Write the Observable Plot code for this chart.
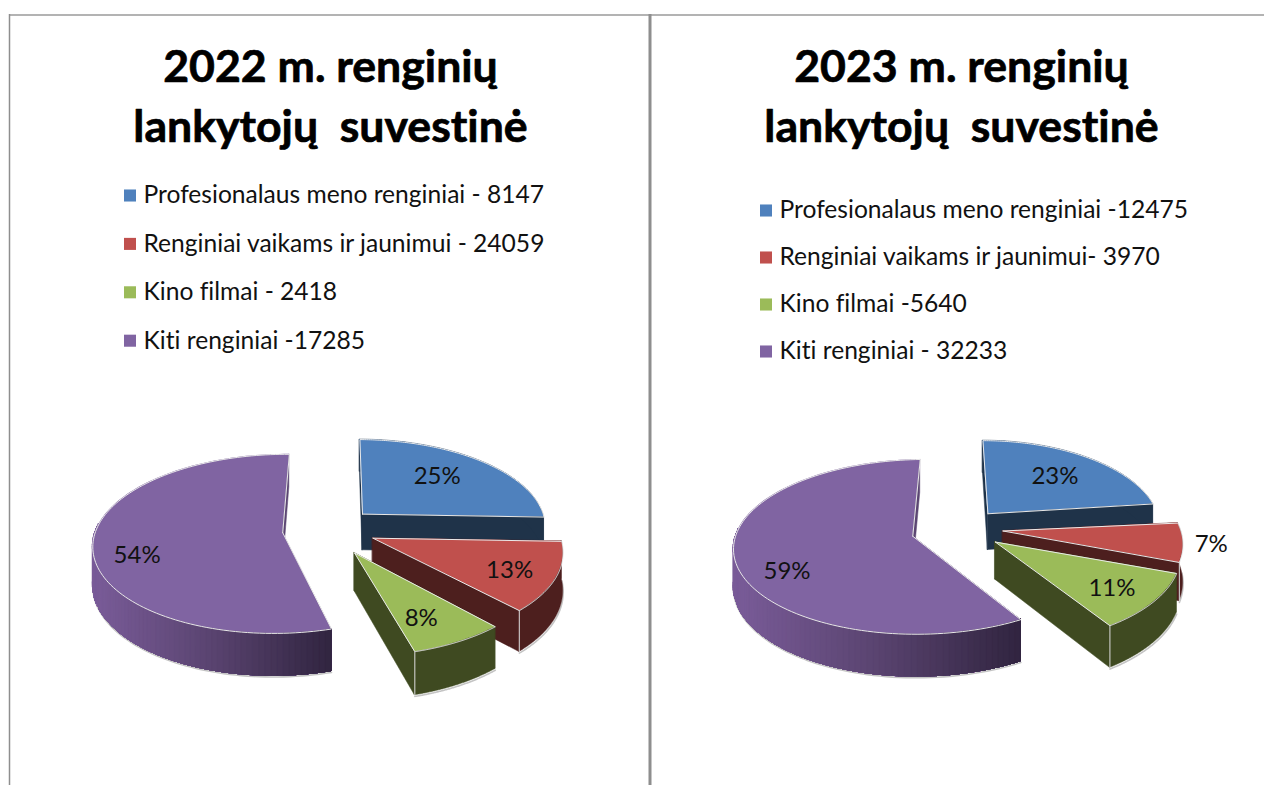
<!DOCTYPE html>
<html lang="lt">
<head>
<meta charset="utf-8">
<style>
html,body{margin:0;padding:0;background:#fff;overflow:hidden}
svg{display:block}
text{white-space:pre;font-variant-ligatures:none}
</style>
<script src="https://cdn.jsdelivr.net/npm/d3@7"></script>
<script src="https://cdn.jsdelivr.net/npm/@observablehq/plot@0.6"></script>
</head>
<body>
<div id="chart"></div>
<script>
const shares2022 = [25, 13, 8, 54];
const shares2023 = [23, 7, 11, 59];
const legend2022 = ["Profesionalaus meno renginiai - 8147", "Renginiai vaikams ir jaunimui - 24059", "Kino filmai - 2418", "Kiti renginiai -17285"];
const legend2023 = ["Profesionalaus meno renginiai -12475", "Renginiai vaikams ir jaunimui- 3970", "Kino filmai -5640", "Kiti renginiai - 32233"];
const title2022 = ["2022 m. renginių", "lankytojų  suvestinė"];
const title2023 = ["2023 m. renginių", "lankytojų  suvestinė"];
const topColors = ["#4f81bd", "#c0504d", "#9bbb59", "#8064a2"];
const wallColors = ["#1f3349", "#4d1f1e", "#3f4a21", "#5b4672"];
const fontFamily = "Lato, Carlito, Calibri, sans-serif";

const W = 1264, H = 785;
const P = 0.124, TILT = 87.6, DEPTH = 37, START = 2;
const pies = [
  {shares: shares2022, cx: 329, cy: 531, R: 185, e: 0.28,
   labelR: [0.65, 0.73, 0.71, 0.76], labelTurn: [-6, -1, 0, -13], labelShift: [[4, 1], [5, 4], [-1, 5], [-4, 1]],
   nudge: [[-4, -1], [-4, -4], [0, -5], [3, -1]], apexNudge: [[0, 0], [0, 0], [1, 4], [2, 0]],
   edge0: [-1.5, 0, 0, -3.5], edge1: [0, -2, -3, -1], sx: [1, 1, 1, 1], sy: [1, 1, 1, 1]},
  {shares: shares2023, cx: 958, cy: 530, R: 185, e: 0.22,
   labelR: [0.656, 1.13, 0.763, 0.763], labelTurn: [-4, -1, -2, -16], labelShift: [[3, 1], [4, 2], [-1, 2], [-4, 0]],
   nudge: [[0, -1], [0, -2], [0, -2], [3, 1]], apexNudge: [[2, -2], [4, 0], [5, 1], [-9, 0]],
   edge0: [-2, 0, 0, 0.5], edge1: [-3, 0, -3, -4], sx: [0.95, 0.98, 1, 1], sy: [1, 1, 1, 0.97]}
];
const rad = d => d * Math.PI / 180;

function pieMarks(pie) {
  const out = [], labels = [];
  const slices = [];
  let a = START;
  pie.shares.forEach((s, i) => {
    const span = s * 3.6;
    slices.push({i, a0: a + pie.edge0[i], a1: a + span + pie.edge1[i], mid: a + span / 2, share: s});
    a += span;
  });
  const project = (sl, theta, r) => {
    const ox = pie.e * Math.sin(rad(sl.mid)), oz = pie.e * Math.cos(rad(sl.mid));
    const X = ox + pie.sx[sl.i] * r * Math.sin(rad(theta)), Z = oz + pie.sy[sl.i] * r * Math.cos(rad(theta));
    const w = 1 + P * Z;
    const [dx, dy] = pie.nudge[sl.i];
    const [ax, ay] = r === 0 ? pie.apexNudge[sl.i] : [0, 0];
    const y = pie.cy - TILT * Z / w + dy + ay;
    return {x: pie.cx + pie.R * X / w + dx + ax, y, yb: y + DEPTH / w, theta};
  };
  const arcAngles = sl => d3.range(0, 121).map(k => sl.a0 + (sl.a1 - sl.a0) * k / 120);
  const wall = (pts, fill) => Plot.area(pts, {x1: "x", y1: "y", x2: "x", y2: "yb", fill, stroke: fill, strokeWidth: 0.5});
  // painter's order: back slice, the big slice, then the front slices
  for (const i of [0, 3, 1, 2]) {
    const sl = slices[i];
    const apex = project(sl, 0, 0);
    const first = project(sl, sl.a0, 1), last = project(sl, sl.a1, 1);
    out.push(wall([apex, first], wallColors[i]));
    out.push(wall([apex, last], wallColors[i]));
    const arc = arcAngles(sl).map(t => project(sl, t, 1));
    // soft shadow below the outer wall, front-facing part only
    const front = arc.filter(p => Math.cos(rad(p.theta)) < -0.04);
    if (front.length) out.push(Plot.line(front, {x: "x", y: d => d.yb + 1.2, stroke: "#c4c4c4", strokeWidth: 1.6}));
    if (i === 3) {
      // the large slice's wall darkens from left to right; each band runs on to the end
      const frontIdx = arc.filter(p => Math.cos(rad(p.theta)) < 0.1);
      const xs = d3.extent(arc, d => d.x);
      const shade = d3.scaleLinear().domain([xs[0], xs[0] + (xs[1] - xs[0]) * 0.5, xs[1]]).range(["#7a5c99", "#59436f", "#30243f"]);
      const ordered = frontIdx.slice().sort((p, q) => p.x - q.x);
      for (let k = 0; k + 1 < ordered.length; k += 1) {
        out.push(wall(ordered.slice(k), shade(ordered[k].x)));
      }
    } else {
      out.push(wall(arc, wallColors[i]));
    }
    out.push(Plot.area(arc, {x1: "x", y1: "y", x2: () => apex.x, y2: () => apex.y, fill: topColors[i]}));
    out.push(Plot.line([apex, ...arc, apex], {x: "x", y: "y", stroke: "#e9e9e9", strokeWidth: 1}));
    if (i === 1 || i === 2) {
      // light line down the slice's front corner
      out.push(Plot.line([{x: last.x, y: last.y}, {x: last.x, y: last.yb}], {x: "x", y: "y", stroke: "#d8d8d8", strokeWidth: 1}));
    }
    const m = project(sl, sl.mid + pie.labelTurn[i], pie.labelR[i]);
    labels.push({x: m.x + pie.labelShift[i][0], y: m.y + pie.labelShift[i][1], label: sl.share + "%"});
  }
  out.push(Plot.text(labels, {x: "x", y: "y", text: "label", fontSize: 24, fill: "#111", fontFamily}));
  return out;
}

function headerMarks(title, legend, tx, ty, lx, ly, gap, textX) {
  const titleRows = title.map((t, i) => ({t, x: tx, y: ty + i * 60}));
  const legendRows = legend.map((t, i) => ({t, i, x: lx, tx: textX, y: ly + i * gap, c: topColors[i]}));
  return [
    Plot.text(titleRows, {x: "x", y: "y", text: "t", fontSize: 44.6, fontWeight: 700, fill: "#000", stroke: "#000", strokeWidth: 0.7, fontFamily}),
    Plot.dot(legendRows, {x: "x", y: "y", symbol: "square", r: 6.8, fill: d => d.c, stroke: "none"}),
    Plot.text(legendRows, {x: "tx", y: "y", text: "t", textAnchor: "start", fontSize: 24.6, fill: "#111", fontFamily})
  ];
}

const frameV = [{x: 9, w: 1.5}, {x: 649.5, w: 3}];
const chart = Plot.plot({
  width: W, height: H,
  margin: 0,
  x: {domain: [0, W], range: [0, W], axis: null},
  y: {domain: [0, H], range: [0, H], axis: null},
  color: {type: "identity"},
  marks: [
    Plot.ruleY([14.5], {stroke: "#9a9a9a", strokeWidth: 1.5, x1: 9, x2: W}),
    ...frameV.map(f => Plot.ruleX([f.x], {stroke: "#8e8e8e", strokeWidth: f.w, y1: 14, y2: H})),
    ...headerMarks(title2022, legend2022, 330, 67, 129.5, 195, 48.4, 143),
    ...headerMarks(title2023, legend2023, 961, 67, 765.5, 210, 47, 779),
    ...pies.flatMap(pieMarks)
  ]
});
chart.style.fontFamily = fontFamily;
document.getElementById("chart").append(chart);
</script>
</body>
</html>
